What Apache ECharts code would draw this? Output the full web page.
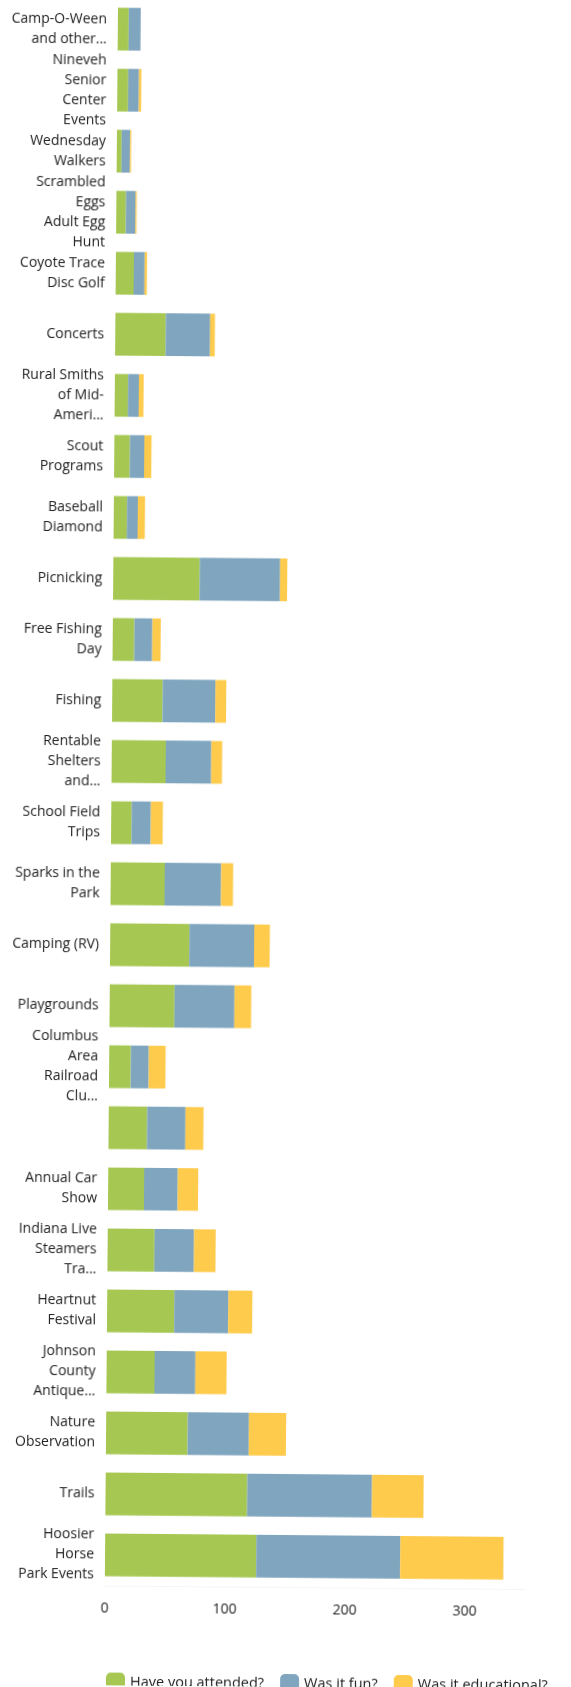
<!DOCTYPE html>
<html>
<head>
<meta charset="utf-8">
<script src="https://cdn.jsdelivr.net/npm/echarts/dist/echarts.min.js"></script>
<style>
  html, body { margin: 0; padding: 0; background: #ffffff; overflow: hidden; }
  #chart {
    width: 571px; height: 1687px;
    transform: rotate(0.48deg);
    transform-origin: 50% 50%;
  }
</style>
</head>
<body>
<div id="chart"></div>
<script>
// Park programs: stacked answers per program
const categories = [
  "Camp-O-Ween\nand other...",
  "Nineveh\nSenior\nCenter\nEvents",
  "Wednesday\nWalkers",
  "Scrambled\nEggs\nAdult Egg\nHunt",
  "Coyote Trace\nDisc Golf",
  "Concerts",
  "Rural Smiths\nof Mid-\nAmeri...",
  "Scout\nPrograms",
  "Baseball\nDiamond",
  "Picnicking",
  "Free Fishing\nDay",
  "Fishing",
  "Rentable\nShelters\nand...",
  "School Field\nTrips",
  "Sparks in the\nPark",
  "Camping (RV)",
  "Playgrounds",
  "Columbus\nArea\nRailroad\nClu...",
  "",
  "Annual Car\nShow",
  "Indiana Live\nSteamers\nTra...",
  "Heartnut\nFestival",
  "Johnson\nCounty\nAntique...",
  "Nature\nObservation",
  "Trails",
  "Hoosier\nHorse\nPark Events"
];

const seriesNames = ["Have you attended?", "Was it fun?", "Was it educational?"];

const attended    = [9, 9, 4, 8, 15, 42, 11, 13, 11, 72, 18, 42, 45, 17, 45, 66, 54, 18, 32, 30, 39, 56, 40, 68, 118, 126];
const fun         = [10, 9, 7, 8, 9, 37, 9, 12, 9, 67, 15, 44, 38, 16, 47, 54, 50, 15, 32, 28, 33, 45, 34, 51, 104, 120];
const educational = [0, 2, 1, 1, 2, 4, 4, 6, 6, 6, 7, 9, 9, 10, 10, 13, 14, 14, 15, 17, 18, 20, 26, 31, 43, 86];

const colors = ["#a6c852", "#80a6bf", "#fecb4d"];
const FONT = "'Open Sans', 'DejaVu Sans', sans-serif";
const TEXT = "#222222";

const chart = echarts.init(document.getElementById("chart"), null, { renderer: "canvas" });

function barSeries(name, data, color) {
  return {
    name: name,
    type: "bar",
    stack: "total",
    data: data,
    barCategoryGap: "30%",
    itemStyle: { color: color },
    emphasis: { disabled: true }
  };
}

chart.setOption({
  animation: false,
  backgroundColor: "#ffffff",
  color: colors,
  grid: { left: 111, right: 40, top: 0, bottom: 100, containLabel: false },
  xAxis: {
    type: "value",
    min: 0,
    max: 350,
    interval: 100,
    axisLine: { show: true, lineStyle: { color: "#f4f4f4", width: 1 } },
    axisTick: { show: false },
    splitLine: { show: false },
    axisLabel: {
      show: true,
      showMaxLabel: false,
      margin: 16,
      color: TEXT,
      fontSize: 14,
      fontFamily: FONT
    }
  },
  yAxis: {
    type: "category",
    data: categories,
    inverse: true,
    axisLine: { show: false },
    axisTick: { show: false },
    splitLine: { show: false },
    axisLabel: {
      margin: 11,
      color: TEXT,
      fontSize: 14,
      lineHeight: 20,
      fontFamily: FONT,
      interval: 0
    }
  },
  legend: {
    data: seriesNames,
    left: 108,
    top: 1669,
    orient: "horizontal",
    icon: "roundRect",
    itemWidth: 19,
    itemHeight: 20,
    itemGap: 16,
    textStyle: { color: TEXT, fontSize: 14.5, fontFamily: FONT }
  },
  series: [
    barSeries(seriesNames[0], attended, colors[0]),
    barSeries(seriesNames[1], fun, colors[1]),
    barSeries(seriesNames[2], educational, colors[2])
  ]
});
</script>
</body>
</html>
